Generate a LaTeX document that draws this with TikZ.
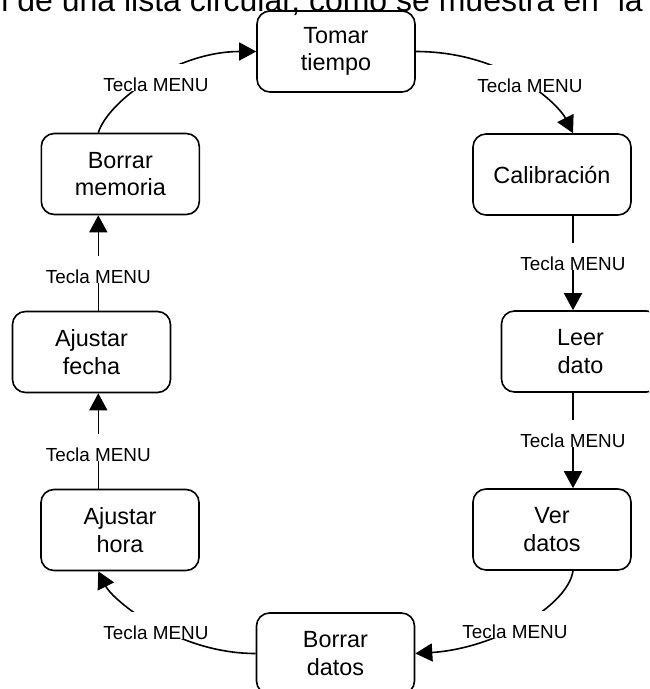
\documentclass[tikz,border=0pt]{standalone}
\usepackage{fontspec}
\setmainfont{Liberation Sans}
\usetikzlibrary{arrows.meta,calc}
\begin{document}
\begin{tikzpicture}[x=1pt,y=-1pt,
  state/.style={draw, line width=1.6pt, rounded corners=13pt, minimum width=158pt, minimum height=81pt, align=center, font=\fontsize{23.4}{27.7}\selectfont, inner sep=0pt},
  conn/.style={line width=1.6pt},
  arr/.style={conn, -{Triangle[length=17pt,width=18pt]}},
  lbl/.style={fill=white, font=\fontsize{18.9}{22}\selectfont, inner xsep=2pt, inner ysep=0pt, text height=27pt, text depth=0pt, anchor=base},
]
\useasboundingbox (0,0) rectangle (649,689);
\clip (0,0) rectangle (649,689);

\node[anchor=base east, inner sep=0pt, font=\fontsize{32}{38}\selectfont] (hdr) at (643,11.5) {l de una lista circular, como se muestra en\hspace{10pt} la};

\coordinate (rx) at (573,0);
\coordinate (lx) at (98.3,0);

\node[state] (tomar)  at (336,51.5)   {Tomar\\tiempo};
\node[state] (cal)    at (552,174.5)  {Calibración};
\node[state] (leer)   at (580.5,351.5){Leer\\dato};
\node[state] (ver)    at (552,529.5)  {Ver\\datos};
\node[state] (bdatos) at (335.5,653.5){Borrar\\datos};
\node[state] (ahora)  at (120,530)    {Ajustar\\hora};
\node[state] (afecha) at (91.5,352)   {Ajustar\\fecha};
\node[state] (bmem)   at (120.3,174)  {Borrar\\memoria};

\draw[arr] (tomar.east) .. controls +(90,0) and +(-14,-28) .. (cal.north -| rx);
\draw[arr] (cal.south -| rx) -- (leer.north -| rx);
\draw[arr] (leer.south -| rx) -- (ver.north -| rx);
\draw[arr] (ver.south -| rx) .. controls +(-5,35) and +(80,-5) .. (bdatos.east);
\draw[arr] (bdatos.west) .. controls +(-80,0) and +(14,28) .. (ahora.south -| lx);
\draw[arr] (ahora.north -| lx) -- (afecha.south -| lx);
\draw[arr] (afecha.north -| lx) -- (bmem.south -| lx);
\draw[arr] (bmem.north -| lx) .. controls +(10,-32) and +(-80,0) .. (tomar.west);

\node[lbl] (l1) at (530,92)    {Tecla MENU};
\node[lbl] (l2) at (573,270)   {Tecla MENU};
\node[lbl] (l3) at (573,447)   {Tecla MENU};
\node[lbl] (l4) at (515,638)   {Tecla MENU};
\node[lbl] (l5) at (156,639)   {Tecla MENU};
\node[lbl] (l6) at (98.3,461)  {Tecla MENU};
\node[lbl] (l7) at (98.3,283)  {Tecla MENU};
\node[lbl] (l8) at (156,91)    {Tecla MENU};
\end{tikzpicture}
\end{document}
